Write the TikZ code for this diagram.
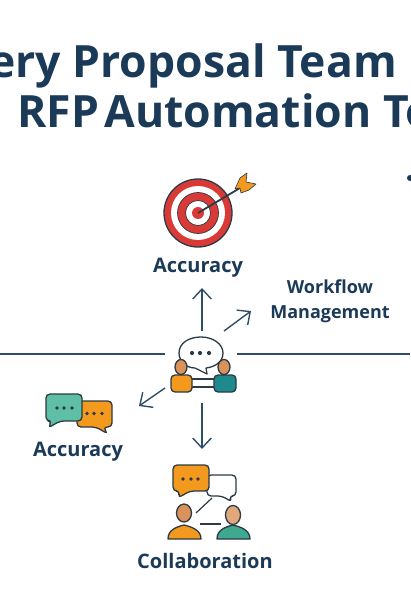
\documentclass[tikz,border=0pt]{standalone}
\usepackage{fontspec}
\setmainfont{Open Sans}
\usepackage{xcolor}
\usetikzlibrary{arrows.meta,positioning}
\definecolor{NavyInk}{HTML}{1B3A57}
\definecolor{RuleBlue}{HTML}{2F4D66}
\definecolor{IconInk}{HTML}{2B3A45}
\definecolor{TargetRed}{HTML}{D93A36}
\definecolor{ChatOrange}{HTML}{F39A1E}
\definecolor{ChatGreen}{HTML}{5FBFA6}
\definecolor{PersonTeal}{HTML}{1F8A8C}
\definecolor{PersonGreen}{HTML}{3FA98F}
\definecolor{SkinTan}{HTML}{D9925A}

\begin{document}
\begin{tikzpicture}[
  x=1pt, y=-1pt,
  heading/.style={anchor=base west, inner sep=0pt, text=NavyInk, font=\fontsize{44.5}{44}\selectfont\bfseries},
  caption/.style={align=center, inner sep=0pt, text=NavyInk, font=\fontsize{20}{25}\selectfont\bfseries},
  smallcaption/.style={caption, font=\fontsize{18}{25}\selectfont\bfseries},
  rule/.style={RuleBlue, line width=1.4pt},
  arrow/.style={-{Straight Barb[length=3.5mm,width=6.5mm]}, RuleBlue, line width=1.4pt},
  icon/.style={draw=IconInk, line width=1.3pt, line join=round},
  bubble/.style={icon, rounded corners=4pt},
  pers/.style={icon, rounded corners=4pt},
  dots/.style={fill=IconInk, draw=none},
  link/.style={IconInk, line width=1.2pt}
]
\useasboundingbox (0,0) rectangle (410,615);

% title
\node[heading] (titleone) at (-11,78) {ery Proposal Team};
\node[heading] (titletwo) at (17,128) {RFP\hspace{-6pt} Automation To};
\fill[NavyInk] (410,178) circle (3);

% labels
\node[caption] (accuracytop) at (198,268) {Accuracy};
\node[smallcaption] (workflow) at (330,301) {Workflow\\Management};
\node[caption] (accuracyleft) at (78,452) {Accuracy};
\node[caption] (collab) at (205,561) {Collaboration};

% ends of the connectors
\coordinate (hubn) at (202,331);
\coordinate (hubne) at (224,331);
\coordinate (hubsw) at (165,388);
\coordinate (hubs) at (202,403);
\coordinate (hubw) at (165,354);
\coordinate (hube) at (237,354);
\coordinate (edgew) at (0,354);
\coordinate (edgee) at (410,354);
\coordinate (targetn) at (202,288);
\coordinate (targetne) at (251,311);
\coordinate (targetsw) at (139,406);
\coordinate (targets) at (202,449);

\draw[rule] (edgew) -- (hubw);
\draw[rule] (hube) -- (edgee);
\draw[arrow] (hubn) -- (targetn);
\draw[arrow] (hubne) -- (targetne);
\draw[arrow] (hubsw) -- (targetsw);
\draw[arrow] (hubs) -- (targets);

% target
\draw[icon, fill=TargetRed] (198,213) circle (34);
\fill[white] (198,213) circle (27);
\draw[icon, fill=TargetRed, line width=.7pt] (198,213) circle (20.5);
\draw[icon, fill=white, line width=.7pt] (198,213) circle (12.5);
\fill[TargetRed] (198,213) circle (6);
\draw[IconInk, line width=1.8pt] (198,213) -- (240,188);
\draw[icon, fill=ChatOrange, line width=.6pt] (235,189) -- (240,178) -- (247,173) -- (246,182) -- (256,184) -- (249,190) -- (241,193) -- (240,188) -- cycle;

% hub icon
\draw[icon, fill=white] (206,368) -- (207,374) -- (195,368) .. controls (186,368) and (179,361) .. (179,353) .. controls (179,343) and (189,337) .. (201,337) .. controls (213,337) and (223,344) .. (223,353) .. controls (223,362) and (215,367) .. cycle;
\foreach \xdot in {192,200,209} \fill[dots] (\xdot,353) circle (2.1);
\draw[link] (192,379) -- (214,379);
\draw[link] (192,387) -- (214,387);
\draw[pers, fill=ChatOrange] (171,392) -- (171,375) -- (192,375) -- (192,392) -- cycle;
\draw[icon, fill=SkinTan] (181,367) ellipse (6 and 7.5);
\draw[pers, fill=PersonTeal] (214,392) -- (214,375) -- (236,375) -- (236,392) -- cycle;
\draw[icon, fill=SkinTan] (224,367) ellipse (6 and 7.5);

% chat icon
\draw[bubble, fill=ChatOrange] (77,401) -- (112,401) -- (112,427) -- (103,427) -- (108,434) -- (96,427) -- (77,427) -- cycle;
\foreach \xdot in {87,94,102} \fill[dots] (\xdot,413.5) circle (1.9);
\draw[bubble, fill=ChatGreen] (46,394) -- (82,394) -- (82,421) -- (60,421) -- (48,428) -- (52,421) -- (46,421) -- cycle;
\foreach \xdot in {57,64,72} \fill[dots] (\xdot,408) circle (1.9);

% collaboration icon
\draw[bubble, fill=white] (207,475) -- (236,475) -- (236,496) -- (229,496) -- (232,502) -- (222,496) -- (207,496) -- cycle;
\draw[bubble, fill=ChatOrange] (173,465) -- (209,465) -- (209,491) -- (190,491) -- (178,498) -- (180,491) -- (173,491) -- cycle;
\foreach \xdot in {183,191,198} \fill[dots] (\xdot,479) circle (1.9);
\draw[link] (196,513) -- (212,498);
\draw[link] (200,524) -- (221,524);
\draw[icon, fill=ChatOrange] (168,539) .. controls (168,530) and (176,527) .. (184,525) .. controls (192,527) and (201,530) .. (201,539) -- cycle;
\draw[icon, fill=SkinTan] (184,513) ellipse (7.5 and 9);
\draw[icon, fill=PersonGreen] (217,539) .. controls (217,530) and (225,527) .. (233,525) .. controls (241,527) and (250,530) .. (250,539) -- cycle;
\draw[icon, fill=SkinTan!80!white] (233,515) ellipse (7.5 and 9.5);
\end{tikzpicture}
\end{document}
